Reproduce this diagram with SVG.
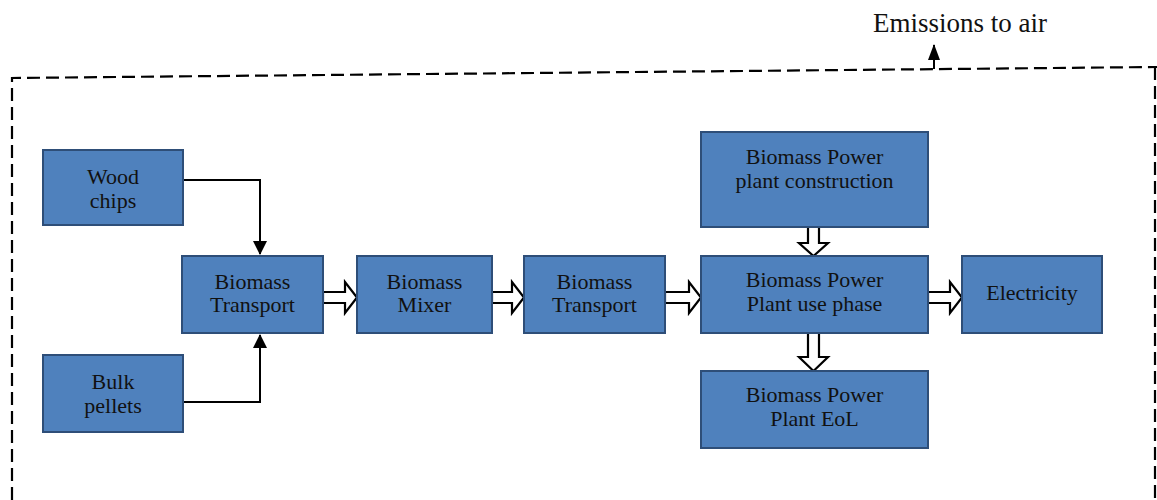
<svg xmlns="http://www.w3.org/2000/svg" width="1157" height="500" viewBox="0 0 1157 500">
<style>
.box{fill:#4F81BD;stroke:#2E4E78;stroke-width:2}
.t{font-family:"Liberation Serif",serif;font-size:22px;fill:#111;text-anchor:middle}
.ln{fill:none;stroke:#000;stroke-width:2}
.ha{fill:#fff;stroke:#000;stroke-width:2.2;stroke-linejoin:miter}
.dash{fill:none;stroke:#000;stroke-width:2.2;stroke-dasharray:13,6}
</style>
<defs>
<marker id="ah" markerWidth="16" markerHeight="12" refX="15" refY="6" orient="auto" markerUnits="userSpaceOnUse" viewBox="0 0 16 12">
<path d="M0,0 L16,6 L0,12 z" fill="#000"/>
</marker>
<marker id="ah2" markerWidth="14" markerHeight="14" refX="13" refY="7" orient="auto" markerUnits="userSpaceOnUse" viewBox="0 0 14 14">
<path d="M0,0 L14,7 L0,14 z" fill="#000"/>
</marker>
</defs>
<rect width="1157" height="500" fill="#fff"/>
<g id="boundary">
<path class="dash" d="M12,500 L12,78 L1157,67"/>
<path class="dash" d="M1155,67 L1155,500"/>
</g>
<text class="t" x="960" y="32" style="font-size:27px">Emissions to air</text>
<g id="connectors">
<line class="ln" x1="934" y1="69" x2="934" y2="45" marker-end="url(#ah)"/>
<path class="ln" d="M183,180 L260,180 L260,254" marker-end="url(#ah2)"/>
<path class="ln" d="M183,402 L260,402 L260,335" marker-end="url(#ah2)"/>
<path class="ha" d="M323,292 L345,292 L345,282 L357,297.5 L345,313 L345,303 L323,303 z"/>
<path class="ha" d="M492,292 L512,292 L512,282 L524,297.5 L512,313 L512,303 L492,303 z"/>
<path class="ha" d="M665,292 L689,292 L689,282 L701,297.5 L689,313 L689,303 L665,303 z"/>
<path class="ha" d="M928,292 L950,292 L950,282 L962,297.5 L950,313 L950,303 L928,303 z"/>
<path class="ha" d="M808,227 L819,227 L819,243 L828,243 L813.5,256 L799,243 L808,243 z"/>
<path class="ha" d="M808,333 L819,333 L819,357 L828,357 L813.5,371 L799,357 L808,357 z"/>
</g>
<g id="wood-chips"><rect class="box" x="43" y="150" width="140" height="75"/><text class="t" x="113" y="184">Wood</text><text class="t" x="113" y="208">chips</text></g>
<g id="bulk-pellets"><rect class="box" x="43" y="355" width="140" height="77"/><text class="t" x="113" y="389">Bulk</text><text class="t" x="113" y="413">pellets</text></g>
<g id="biomass-transport-1"><rect class="box" x="182" y="256" width="141" height="77"/><text class="t" x="252.5" y="289">Biomass</text><text class="t" x="252.5" y="312">Transport</text></g>
<g id="biomass-mixer"><rect class="box" x="357" y="256" width="135" height="77"/><text class="t" x="424.5" y="289">Biomass</text><text class="t" x="424.5" y="312">Mixer</text></g>
<g id="biomass-transport-2"><rect class="box" x="524" y="256" width="141" height="77"/><text class="t" x="594.5" y="289">Biomass</text><text class="t" x="594.5" y="312">Transport</text></g>
<g id="plant-construction"><rect class="box" x="701" y="132" width="227" height="95"/><text class="t" x="814.5" y="164">Biomass Power</text><text class="t" x="814.5" y="188">plant construction</text></g>
<g id="plant-use-phase"><rect class="box" x="701" y="256" width="227" height="77"/><text class="t" x="814.5" y="287">Biomass Power</text><text class="t" x="814.5" y="311">Plant use phase</text></g>
<g id="plant-eol"><rect class="box" x="701" y="371" width="227" height="77"/><text class="t" x="814.5" y="402">Biomass Power</text><text class="t" x="814.5" y="426">Plant EoL</text></g>
<g id="electricity"><rect class="box" x="962" y="256" width="140" height="77"/><text class="t" x="1032" y="300">Electricity</text></g>
</svg>
